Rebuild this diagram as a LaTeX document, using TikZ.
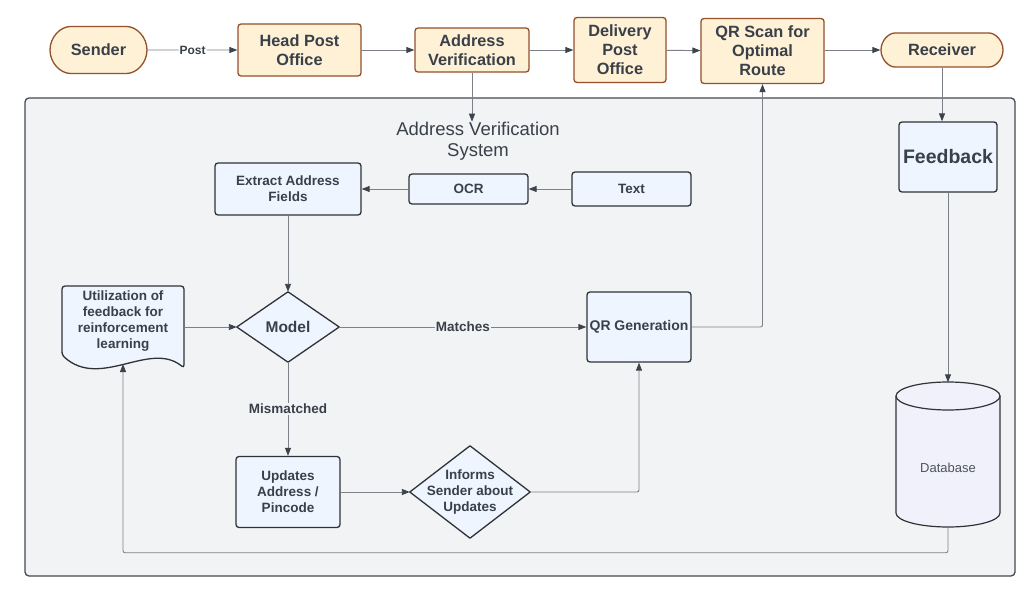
\documentclass[tikz,border=0pt]{standalone}
\usepackage{fontspec}
\setmainfont{Liberation Sans}
\usetikzlibrary{arrows.meta,shapes.misc}

\definecolor{cream}{HTML}{FEF1D6}
\definecolor{brownline}{HTML}{93502A}
\definecolor{paleblue}{HTML}{EEF5FE}
\definecolor{lavender}{HTML}{F1F1FC}
\definecolor{boxline}{HTML}{2F3338}
\definecolor{bggray}{HTML}{F2F3F5}
\definecolor{frame}{HTML}{474A50}
\definecolor{wire}{HTML}{7C8087}
\definecolor{tipgray}{HTML}{3C434D}
\definecolor{txtgray}{HTML}{3A4049}

\begin{document}
\begin{tikzpicture}[x=1pt,y=-1pt,
  txt/.style={text=txtgray,align=center,inner sep=0pt},
  topbox/.style={txt,draw=brownline,fill=cream,line width=1.3pt,rounded corners=3pt,
    font=\fontsize{16.3}{19}\selectfont\bfseries},
  pill/.style={topbox,rounded rectangle},
  bluebox/.style={txt,draw=boxline,fill=paleblue,line width=1.3pt,rounded corners=3pt,
    font=\fontsize{13.5}{16}\selectfont\bfseries},
  dia/.style={txt,font=\fontsize{13.5}{16}\selectfont\bfseries},
  conn/.style={draw=wire,line width=0.9pt,rounded corners=2pt,
    -{Triangle[length=8pt,width=6pt,color=tipgray]}},
  lbl/.style={txt,font=\fontsize{13.5}{16}\selectfont\bfseries,fill=bggray,inner sep=1pt}
]
\useasboundingbox (0,0) rectangle (1036,596);
\fill[white] (0,0) rectangle (1036,596);

% top row
\node[pill,minimum width=97pt,minimum height=47pt] (sender) at (98.5,50) {Sender};
\node[topbox,minimum width=123pt,minimum height=52pt] (hpo) at (299.5,50) {Head Post\\Office};
\node[topbox,minimum width=114pt,minimum height=44pt] (av) at (472,50) {Address\\Verification};
\node[topbox,minimum width=92pt,minimum height=65pt] (dpo) at (620,50) {Delivery\\Post\\Office};
\node[topbox,minimum width=123pt,minimum height=65pt] (qrscan) at (762.5,51) {QR Scan for\\Optimal\\Route};
\node[pill,minimum width=122pt,minimum height=34pt] (recv) at (942,50) {Receiver};

% system block
\draw[draw=frame,fill=bggray,line width=1.3pt,rounded corners=4pt] (25,98) rectangle (1015,576);
\node[txt,font=\fontsize{18.5}{21}\selectfont] (avs) at (478,141) {Address Verification\\System};

\node[bluebox,minimum width=146pt,minimum height=52pt] (extract) at (288,189) {Extract Address\\Fields};
\node[bluebox,minimum width=119pt,minimum height=30pt] (ocr) at (468.5,189) {OCR};
\node[bluebox,minimum width=119pt,minimum height=34pt] (text) at (631.5,189) {Text};

\draw[draw=boxline,fill=paleblue,line width=1.3pt,rounded corners=3pt]
  (62,355) -- (62,286) -- (184,286) -- (184,368)
  .. controls (150,340) and (100,390) .. (62,355) -- cycle;
\node[dia,minimum width=122pt,minimum height=70pt] (util) at (123,321)
  {Utilization of\\feedback for\\reinforcement\\learning};
\coordinate (utilb) at (123,364);

\node[minimum width=102pt,minimum height=70pt,inner sep=0pt] (model) at (288,327) {};
\draw[draw=boxline,fill=paleblue,line width=1.3pt,line join=round]
  (model.north) -- (model.east) -- (model.south) -- (model.west) -- cycle;
\node[dia,font=\fontsize{15.5}{18}\selectfont\bfseries] at (model) {Model};

\node[bluebox,minimum width=104pt,minimum height=70pt,font=\fontsize{14}{16}\selectfont\bfseries] (qrgen) at (639,327) {QR Generation};
\node[bluebox,minimum width=104pt,minimum height=71pt] (upd) at (288,492) {Updates\\Address /\\Pincode};

\node[minimum width=120pt,minimum height=92pt,inner sep=0pt] (inform) at (470,492) {};
\draw[draw=boxline,fill=paleblue,line width=1.3pt,line join=round]
  (inform.north) -- (inform.east) -- (inform.south) -- (inform.west) -- cycle;
\node[dia] at (inform) {Informs\\Sender about\\Updates};

\node[bluebox,minimum width=98pt,minimum height=70pt,font=\fontsize{19.5}{22}\selectfont\bfseries] (fb) at (948,157) {Feedback};

\node[minimum width=104pt,minimum height=145pt,inner sep=0pt] (db) at (948,455) {};
\draw[draw=boxline,fill=lavender,line width=1.2pt]
  (896,396) -- (896,513) arc[start angle=180,end angle=360,x radius=52pt,y radius=14pt]
  -- (1000,396) arc[start angle=0,end angle=180,x radius=52pt,y radius=14pt] -- cycle;
\draw[draw=boxline,line width=1.2pt] (896,396) arc[start angle=180,end angle=360,x radius=52pt,y radius=14pt];
\node[txt,text=txtgray!90,font=\fontsize{13}{15}\selectfont] at (948,468) {Database};

% connectors
\draw[conn] (sender) -- node[lbl,fill=white,font=\fontsize{12}{14}\selectfont\bfseries] {Post} (hpo);
\draw[conn] (hpo) -- (av);
\draw[conn] (av) -- (dpo);
\draw[conn] (dpo) -- (qrscan);
\draw[conn] (qrscan.east |- recv) -- (recv);
\draw[conn] (av.south) -- (av.south |- avs.north);
\draw[conn] (text) -- (ocr);
\draw[conn] (ocr) -- (extract);
\draw[conn] (extract) -- (model.north);
\draw[conn] (util.east |- model) -- (model.west);
\draw[conn] (model.east) -- node[lbl] {Matches} (qrgen);
\draw[conn] (model.south) -- node[lbl] {Mismatched} (upd);
\draw[conn] (upd) -- (inform.west);
\draw[conn] (inform.east) -| (qrgen.south);
\draw[conn] (qrgen.east) -| (qrscan.south);
\draw[conn] (recv.south) -- (recv.south |- fb.north);
\draw[conn] (fb) -- (db.north);
\draw[conn] (db.south) -- ++(0,25) -| (utilb);
\end{tikzpicture}
\end{document}
